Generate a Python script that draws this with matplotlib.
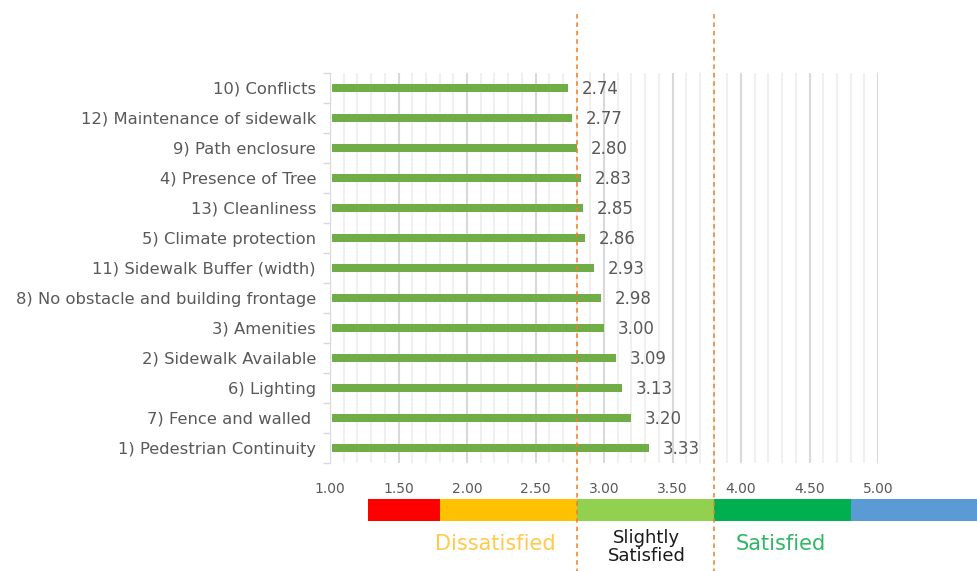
import matplotlib.pyplot as plt
from matplotlib.ticker import MultipleLocator

# Data (top to bottom as shown)
labels = ['10) Conflicts', '12) Maintenance of sidewalk', '9) Path enclosure',
          '4) Presence of Tree', '13) Cleanliness', '5) Climate protection',
          '11) Sidewalk Buffer (width)', '8) No obstacle and building frontage',
          '3) Amenities', '2) Sidewalk Available', '6) Lighting',
          '7) Fence and walled ', '1) Pedestrian Continuity']
scores = [2.74, 2.77, 2.80, 2.83, 2.85, 2.86, 2.93, 2.98, 3.00, 3.09, 3.13, 3.20, 3.33]
xticks = [1.0, 1.5, 2.0, 2.5, 3.0, 3.5, 4.0, 4.5, 5.0]

# colour scale under the chart
scale_edges = [1.28, 1.8, 2.8, 3.8, 4.8, 5.75]
scale_colors = ['#FF0000', '#FFC000', '#92D050', '#00B050', '#5B9BD5']
cut_lines = [2.8, 3.8]

W, H = 977, 571
fig = plt.figure(figsize=(W / 100, H / 100), dpi=100)
plt.rcParams['font.family'] = ['DejaVu Sans']
grey = '#595959'

x0_px, x5_px = 330, 878
top_px, bot_px = 73, 463
ax = fig.add_axes([x0_px / W, 1 - bot_px / H, (x5_px - x0_px) / W, (bot_px - top_px) / H])

y = list(range(len(labels)))[::-1]
ax.barh(y, [s - 1.015 for s in scores], left=1.015, height=0.27, color='#70AD47', zorder=3)
for yi, s in zip(y, scores):
    ax.text(s + 0.1, yi - 0.05, f'{s:.2f}', va='center', ha='left', fontsize=12, color=grey)

ax.set_xlim(1, 5)
ax.set_ylim(-0.5, len(labels) - 0.5)
ax.set_xticks(xticks)
ax.set_xticklabels([f'{v:.2f}' for v in xticks], fontsize=10, color=grey)
ax.xaxis.set_minor_locator(MultipleLocator(0.1))
ax.grid(axis='x', which='major', color='#d9d9d9', lw=1.5, zorder=0)
ax.grid(axis='x', which='minor', color='#f0f0f0', lw=1.5, zorder=0)
ax.tick_params(axis='x', which='both', length=0, pad=14)

ax.set_yticks(y)
ax.set_yticklabels(labels, fontsize=11.8, color=grey)
ax.set_yticks([i + 0.5 for i in range(-1, len(labels))], minor=True)
ax.tick_params(axis='y', which='major', length=0, pad=10)
ax.tick_params(axis='y', which='minor', length=5, color='#d9d9d9', width=1)
for side in ['top', 'right', 'bottom']:
    ax.spines[side].set_visible(False)
ax.spines['left'].set_color('#d9d9d9')

# overlay in the same x units, pixel y
ov = fig.add_axes([0, 0, 1, 1], zorder=5)
ov.patch.set_alpha(0)
ov.set_axis_off()
unit = (x5_px - x0_px) / 4
ov.set_xlim(1 - x0_px / unit, 1 + (W - x0_px) / unit)
ov.set_ylim(H, 0)

for a, b, c in zip(scale_edges[:-1], scale_edges[1:], scale_colors):
    ov.fill_between([a, b], 499, 521, color=c, lw=0)
for cx in cut_lines:
    ov.plot([cx, cx], [14, H], color='#E8802E', lw=1.1, ls=(0, (3, 2.5)))

ov.text(2.21, 544, 'Dissatisfied', ha='center', va='center', fontsize=15, color='#FFC94A')
ov.text(3.31, 547, 'Slightly\nSatisfied', ha='center', va='center', fontsize=13,
        color='#1a1a1a', linespacing=1.05)
ov.text(4.29, 544, 'Satisfied', ha='center', va='center', fontsize=15, color='#2FB866')

fig.savefig('out.png', dpi=100)
